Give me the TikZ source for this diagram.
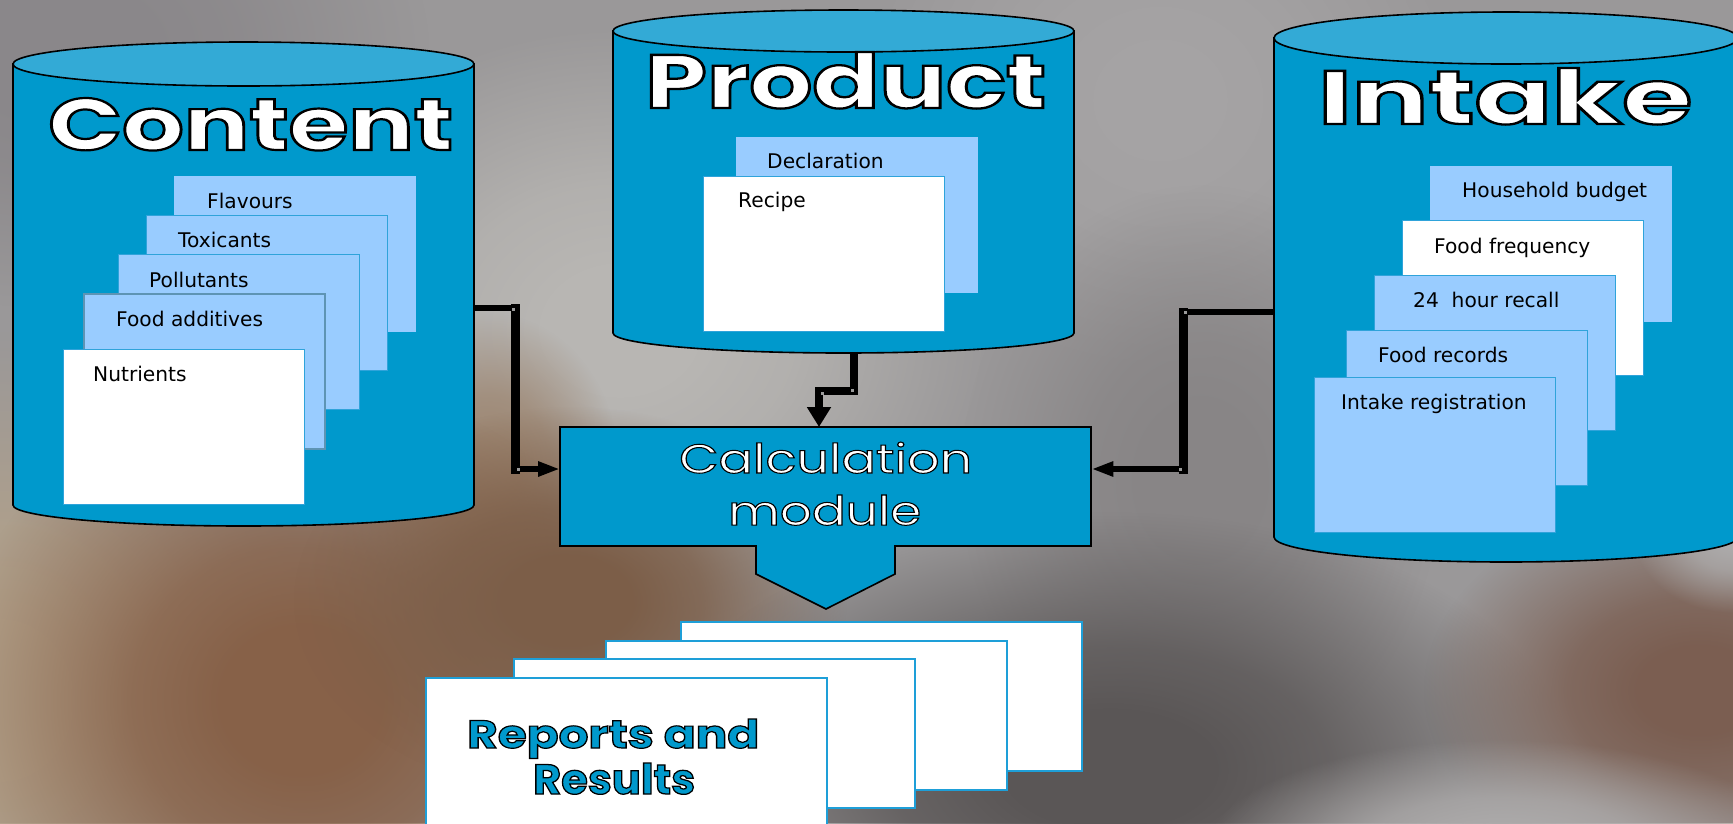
\documentclass[tikz,border=0pt]{standalone}
\usepackage{fontspec}
\setmainfont{DejaVu Sans}
\newfontfamily\geoT[FakeBold=3]{Poppins}
\newfontfamily\geoC[FakeBold=2.5]{Poppins}
\usetikzlibrary{arrows.meta,fadings}
\definecolor{cylblue}{HTML}{0099CC}
\definecolor{cyltop}{HTML}{33AAD6}
\definecolor{lblue}{HTML}{99CCFF}
\definecolor{cardedge}{HTML}{2FA3DA}
\definecolor{grayedge}{HTML}{5E94B4}
\definecolor{repedge}{HTML}{1E9FD8}
\definecolor{bgbase}{HTML}{9A9899}
\definecolor{knot}{HTML}{9A9A9A}
\pgfdeclareradialshading{blobshade}{\pgfpointorigin}{color(0bp)=(white); color(5bp)=(white); color(11bp)=(white!80!black); color(17bp)=(white!40!black); color(23bp)=(black); color(50bp)=(black)}
\pgfdeclarefading{softblob}{\pgfuseshading{blobshade}}
% text filled with #2 and stroked in black; #1 font command, #3 text
\newcommand\strokedtext[3]{{\color{#2}\special{pdf:literal direct 0 G}#1#3}}
\begin{document}
\begin{tikzpicture}[x=1pt,y=1pt,
  cylbody/.style={fill=cylblue, draw=black, line width=1.6pt},
  cyltopst/.style={fill=cyltop, draw=black, line width=1.6pt},
  card/.style={rectangle, inner sep=0pt, minimum width=241pt, minimum height=155pt,
               anchor=north west, fill=lblue, draw=cardedge, line width=1.2pt},
  wcard/.style={card, fill=white},
  plaincard/.style={card, draw=lblue},
  rcard/.style={rectangle, inner sep=0pt, minimum width=401pt, minimum height=149pt,
               anchor=north west, fill=white, draw=repedge, line width=2.2pt},
  lbl/.style={anchor=base west, inner sep=0pt, font=\fontsize{20.2}{24}\selectfont, text=black},
  title/.style={anchor=base west, inner sep=0pt},
  conn/.style={draw=black, line width=5.5pt},
  thickconn/.style={draw=black, line width=9pt, line cap=rect},
  blob/.style={path fading=softblob},
  knotsq/.style={fill=knot}
]
\useasboundingbox (0,0) rectangle (1733,-823);
\clip (0,0) rectangle (1733,-823);

% ---------- background ----------
\fill[bgbase] (0,0) rectangle (1733,-823);
\fill[blob, color={rgb,255:red,138;green,135;blue,138}] (60,-50) ellipse [x radius=400, y radius=280];
\fill[blob, color={rgb,255:red,184;green,182;blue,179}] (620,-330) ellipse [x radius=400, y radius=330];
\fill[blob, color={rgb,255:red,165;green,163;blue,164}] (1160,-100) ellipse [x radius=330, y radius=300];
\fill[blob, color={rgb,255:red,136;green,133;blue,134}] (1200,-480) ellipse [x radius=260, y radius=320];
\fill[blob, color={rgb,255:red,178;green,161;blue,138}] (0,-700) ellipse [x radius=360, y radius=400];
\fill[blob, color={rgb,255:red,158;green,136;blue,116}] (490,-470) ellipse [x radius=140, y radius=170];
\fill[blob, color={rgb,255:red,135;green,97;blue,72}] (300,-700) ellipse [x radius=380, y radius=350];
\fill[blob, color={rgb,255:red,124;green,94;blue,72}] (570,-600) ellipse [x radius=300, y radius=210];
\fill[blob, color={rgb,255:red,90;green,86;blue,86}] (1110,-770) ellipse [x radius=500, y radius=280];
\fill[blob, color={rgb,255:red,123;green,94;blue,81}] (1700,-690) ellipse [x radius=300, y radius=210];
\fill[blob, color={rgb,255:red,172;green,170;blue,170}] (1500,-850) ellipse [x radius=320, y radius=120];
\fill[blob, color={rgb,255:red,172;green,170;blue,170}] (1733,-530) ellipse [x radius=110, y radius=90];

% ---------- Content cylinder ----------
\path[cylbody] (13,-64) -- (13,-505) arc[start angle=180, end angle=360, x radius=230.5, y radius=21] -- (474,-64) -- cycle;
\path[cyltopst] (243.5,-64) ellipse [x radius=230.5, y radius=22];
\node[title] (contentT) at (48,-150) {\resizebox{405pt}{52pt}{\strokedtext{\fontsize{60}{60}\geoT\bfseries}{white}{Content}}};
\node[plaincard] (flav) at (174,-176) {};
\node[card] (toxi) at (146,-215) {};
\node[card] (poll) at (118,-254) {};
\node[card, draw=grayedge, line width=2pt] (addi) at (83,-293) {};
\node[wcard] (nutr) at (63,-349) {};
\node[lbl] at (207,-208) {Flavours};
\node[lbl] at (178,-247) {Toxicants};
\node[lbl] at (149,-287) {Pollutants};
\node[lbl] at (116,-326) {Food additives};
\node[lbl] at (93,-381) {Nutrients};

% ---------- Product cylinder ----------
\path[cylbody] (613,-31) -- (613,-333) arc[start angle=180, end angle=360, x radius=230.5, y radius=20] -- (1074,-31) -- cycle;
\path[cyltopst] (843.5,-31) ellipse [x radius=230.5, y radius=21];
\node[title] (productT) at (645,-108) {\resizebox{401pt}{56pt}{\strokedtext{\fontsize{60}{60}\geoT\bfseries}{white}{Product}}};
\node[plaincard] (decl) at (736,-137) {};
\node[wcard] (reci) at (703,-176) {};
\node[lbl] at (767,-168) {Declaration};
\node[lbl] at (738,-207) {Recipe};

% ---------- Intake cylinder ----------
\path[cylbody] (1274,-38) -- (1274,-537) arc[start angle=180, end angle=360, x radius=232, y radius=25] -- (1738,-38) -- cycle;
\path[cyltopst] (1506,-38) ellipse [x radius=232, y radius=26];
\node[title] (intakeT) at (1318,-124) {\resizebox{374pt}{56pt}{\strokedtext{\fontsize{60}{60}\geoT\bfseries}{white}{Intake}}};
\node[plaincard] (hous) at (1430,-166) {};
\node[wcard] (freq) at (1402,-220) {};
\node[card] (reca) at (1374,-275) {};
\node[card] (reco) at (1346,-330) {};
\node[card] (regi) at (1314,-377) {};
\node[lbl] at (1462,-197) {Household budget};
\node[lbl] at (1434,-253) {Food frequency};
\node[lbl] at (1413,-307) {24~~hour recall};
\node[lbl] at (1378,-362) {Food records};
\node[lbl] at (1341,-409) {Intake registration};

% ---------- Calculation module ----------
\filldraw[fill=cylblue, draw=black, line width=1.6pt]
  (560,-427) -- (1091,-427) -- (1091,-546) -- (895,-546) -- (895,-574) -- (826,-609)
  -- (756,-574) -- (756,-546) -- (560,-546) -- cycle;
\node[inner sep=0pt, minimum width=531pt, minimum height=119pt, anchor=north west] (calc) at (560,-427) {};
\node[title] (calcA) at (679,-473) {\resizebox{293pt}{31pt}{\strokedtext{\fontsize{40}{40}\geoC}{white}{Calculation}}};
\node[title] (calcB) at (728,-525) {\resizebox{193pt}{30pt}{\strokedtext{\fontsize{40}{40}\geoC}{white}{module}}};

% ---------- connectors ----------
\coordinate (cR) at (474,-308);
\coordinate (k1) at (515,-308);
\coordinate (k2) at (515,-469);
\coordinate (calcL) at (calc.west |- k2);
\draw[conn, -{Triangle[length=22pt,width=14pt]}] (cR) -- (k1) -- (k2) -- (calcL);
\draw[thickconn] (k1) -- (k2);
\fill[knotsq] (512,-307.5) rectangle (515,-310.5);
\fill[knotsq] (516.5,-467.5) rectangle (519.5,-470.5);

\coordinate (pB) at (854,-352);
\coordinate (k5) at (854,-391);
\coordinate (k6) at (819,-391);
\coordinate (calcT) at (calc.north -| k6);
\draw[draw=black, line width=8pt, -{Triangle[length=20pt,width=23pt]}] (pB) -- (k5) -- (k6) -- (calcT);
\fill[knotsq] (851,-388.5) rectangle (854,-391.5);
\fill[knotsq] (820.5,-391.5) rectangle (823.5,-394.5);

\coordinate (iL) at (1274,-312);
\coordinate (k3) at (1183,-312);
\coordinate (k4) at (1183,-469);
\coordinate (calcR) at (calc.east |- k4);
\draw[conn, -{Triangle[length=22pt,width=14pt]}] (iL) -- (k3) -- (k4) -- (calcR);
\draw[thickconn] (k3) -- (k4);
\fill[knotsq] (1184,-310.5) rectangle (1187,-313.5);
\fill[knotsq] (1179,-467.5) rectangle (1182,-470.5);

% ---------- Reports ----------
\node[rcard] (rep4) at (680,-621) {};
\node[rcard] (rep3) at (605,-640) {};
\node[rcard] (rep2) at (513,-658) {};
\node[rcard] (rep1) at (425,-677) {};
\node[title] (repA) at (467,-748) {\resizebox{292pt}{29pt}{\strokedtext{\fontsize{40}{40}\geoT\bfseries}{cylblue}{Reports and}}};
\node[title] (repB) at (533,-794) {\resizebox{162pt}{31pt}{\strokedtext{\fontsize{40}{40}\geoT\bfseries}{cylblue}{Results}}};
\end{tikzpicture}
\end{document}
